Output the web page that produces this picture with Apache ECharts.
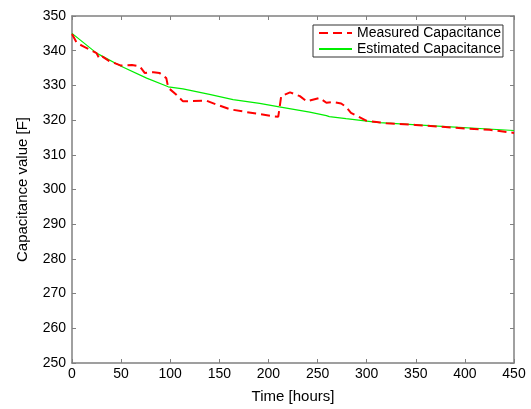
<!DOCTYPE html>
<html>
<head>
<meta charset="utf-8">
<script src="https://cdn.jsdelivr.net/npm/echarts@6/dist/echarts.min.js"></script>
<style>html,body{margin:0;padding:0;background:#fff;}#c{width:531px;height:409px;}</style>
</head>
<body>
<div id="c"></div>
<script>
var measuredHours = [0, 5, 12, 25, 28, 31, 38, 50, 61, 69, 74, 83, 89, 96, 98, 106, 113, 137, 147, 161, 178, 205, 210, 213, 222, 232, 239, 252, 259, 266, 274, 279, 284, 300, 320, 350, 380, 400, 425, 450];
var measuredValues = [344.8, 342.2, 341.2, 339.3, 337.6, 338.3, 337.0, 335.7, 335.9, 335.5, 333.6, 333.8, 333.6, 332.1, 329.3, 327.4, 325.4, 325.6, 324.5, 323.1, 322.3, 321.1, 321.0, 326.9, 328.0, 326.9, 325.4, 326.4, 325.0, 325.2, 324.8, 323.8, 322.1, 319.8, 319.1, 318.6, 318.0, 317.6, 317.2, 316.3];
var estimatedHours = [0, 25, 50, 76, 98, 100, 113, 140, 164, 191, 211, 242, 259, 262, 279, 313, 381, 450];
var estimatedValues = [345.0, 339.3, 335.5, 332.1, 329.6, 329.1, 329.0, 327.4, 325.9, 324.8, 323.8, 322.3, 321.3, 321.0, 320.4, 319.3, 318.1, 317.0];
var xTicks = [0, 50, 100, 150, 200, 250, 300, 350, 400, 450];
var yTicks = [250, 260, 270, 280, 290, 300, 310, 320, 330, 340, 350];

function pairs(xs, ys) { return xs.map(function (x, i) { return [x, ys[i]]; }); }

var font = 'Liberation Sans, Arial, Helvetica, sans-serif';
var axisColor = '#808080';
var chart = echarts.init(document.getElementById('c'), null, {renderer: 'canvas'});
var baseX = {
  type: 'value', min: xTicks[0], max: xTicks[xTicks.length - 1], interval: 50,
  axisLine: {show: true, onZero: false, lineStyle: {color: axisColor, width: 1.5}},
  axisTick: {show: true, inside: true, length: 4, lineStyle: {color: axisColor}},
  splitLine: {show: false}
};
var baseY = {
  type: 'value', min: yTicks[0], max: yTicks[yTicks.length - 1], interval: 10,
  axisLine: {show: true, onZero: false, lineStyle: {color: axisColor, width: 1.5}},
  axisTick: {show: true, inside: true, length: 4, lineStyle: {color: axisColor}},
  splitLine: {show: false}
};
chart.setOption({
  animation: false,
  backgroundColor: '#fff',
  grid: {left: 72, right: 17, top: 16, bottom: 44, containLabel: false},
  legend: {
    left: 313, top: 25, orient: 'vertical',
    borderColor: '#333', borderWidth: 1, padding: [1, 2, 1, 5],
    itemWidth: 33, itemHeight: 12, itemGap: 2,
    itemStyle: {opacity: 0},
    textStyle: {fontFamily: font, fontSize: 14, color: '#000'},
    data: ['Measured Capacitance', 'Estimated Capacitance']
  },
  xAxis: [
    Object.assign({}, baseX, {
      position: 'bottom', name: 'Time [hours]', nameLocation: 'middle', nameGap: 26,
      nameTextStyle: {fontFamily: font, fontSize: 15, color: '#000'},
      axisLabel: {fontFamily: font, fontSize: 14, color: '#000', margin: 4}
    }),
    Object.assign({}, baseX, {position: 'top', axisLabel: {show: false}})
  ],
  yAxis: [
    Object.assign({}, baseY, {
      position: 'left', name: 'Capacitance value [F]', nameLocation: 'middle', nameGap: 42,
      nameTextStyle: {fontFamily: font, fontSize: 15, color: '#000'},
      axisLabel: {fontFamily: font, fontSize: 14, color: '#000', margin: 6}
    }),
    Object.assign({}, baseY, {position: 'right', axisLabel: {show: false}})
  ],
  series: [
    {
      name: 'Measured Capacitance', type: 'line', xAxisIndex: 0, yAxisIndex: 0,
      data: pairs(measuredHours, measuredValues), showSymbol: false, symbol: 'none',
      itemStyle: {color: '#ff0000'},
      lineStyle: {color: '#ff0000', width: 2, type: [9, 5]}, z: 3
    },
    {
      name: 'Estimated Capacitance', type: 'line', xAxisIndex: 0, yAxisIndex: 0,
      data: pairs(estimatedHours, estimatedValues), showSymbol: false, symbol: 'none',
      itemStyle: {color: '#00ee00'},
      lineStyle: {color: '#00ee00', width: 1.2}, z: 2
    }
  ]
});
</script>
</body>
</html>
